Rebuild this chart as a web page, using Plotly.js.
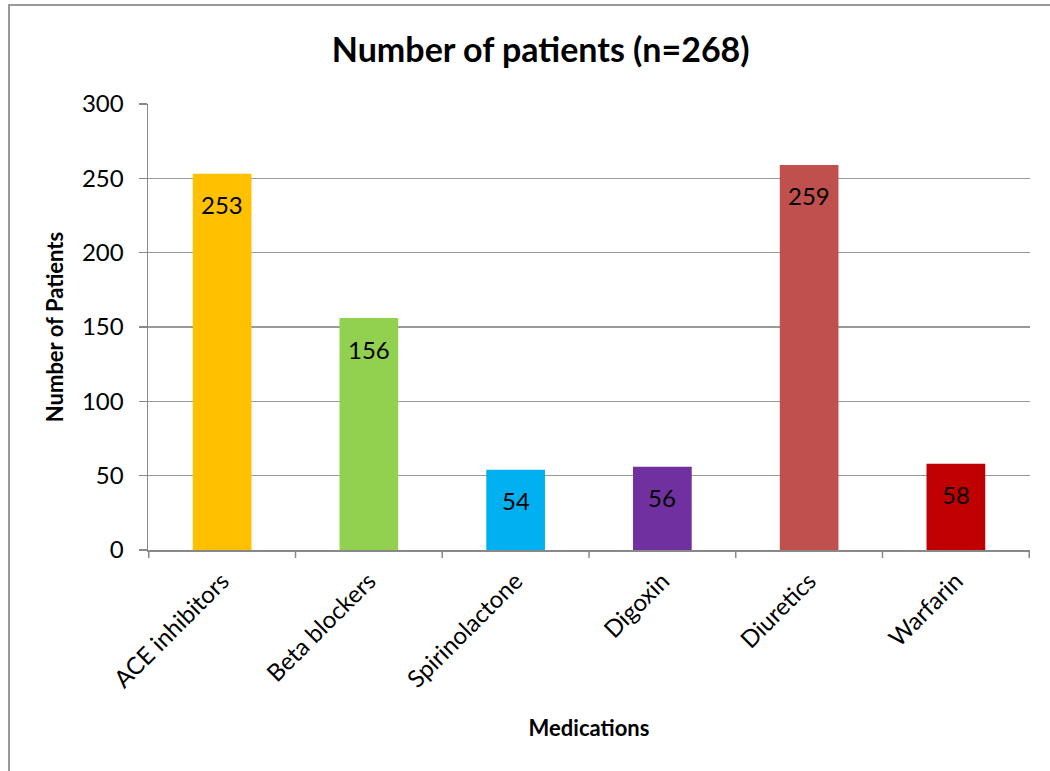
<!DOCTYPE html>
<html>
<head>
<meta charset="utf-8">
<script src="https://cdn.plot.ly/plotly-3.0.1.min.js"></script>
<style>
html,body{margin:0;padding:0;background:#fff;}
#chart{width:1050px;height:771px;}
</style>
</head>
<body>
<div id="chart"></div>
<script>
const categories = ["ACE inhibitors", "Beta blockers", "Spirinolactone", "Digoxin", "Diuretics", "Warfarin"];
const patients = [253, 156, 54, 56, 259, 58];
const barColors = ["#FFC000", "#92D050", "#00B0F0", "#7030A0", "#C0504D", "#C00000"];
const yTicks = [0, 50, 100, 150, 200, 250, 300];

const FONT = "Lato, 'Open Sans', 'Liberation Sans', sans-serif";
const PLOT_H = 446, PLOT_W = 882;

const trace = {
  type: "bar",
  x: categories,
  y: patients,
  marker: {color: barColors, line: {width: 0}},
  width: 0.4,
  hoverinfo: "x+y"
};

const annotations = categories.map((c, i) => ({
  x: c, y: patients[i], xref: "x", yref: "y",
  text: String(patients[i]), showarrow: false,
  yshift: -31, font: {family: FONT, size: 24, color: "#000"}
}));

const shapes = [];
for (let i = 0; i <= categories.length; i++) {
  shapes.push({type: "line", xref: "x", yref: "paper", x0: i - 0.5, x1: i - 0.5,
    y0: 0, y1: -8 / PLOT_H, line: {color: "#888", width: 1.5}});
}
// outer chart border
shapes.push({type: "rect", xref: "paper", yref: "paper",
  x0: -139 / PLOT_W, x1: 1.05, y0: -300 / PLOT_H, y1: 1 + 99 / PLOT_H,
  line: {color: "#999", width: 2}});

const layout = {
  width: 1050, height: 771,
  margin: {l: 148, r: 20, t: 104, b: 221},
  paper_bgcolor: "#fff", plot_bgcolor: "#fff",
  showlegend: false,
  title: {text: "<b>Number of patients (n=268)</b>", x: 0.515, xanchor: "center", y: 0.935, yanchor: "middle",
          font: {family: FONT, size: 34, color: "#000"}},
  xaxis: {
    type: "category",
    tickangle: -45,
    tickfont: {family: FONT, size: 24, color: "#000"},
    ticklabelstandoff: 6,
    showline: true, linecolor: "#888", linewidth: 1.5,
    ticks: "", showgrid: false,
    automargin: false,
    title: {text: "<b>Medications</b>", font: {family: FONT, size: 22, color: "#000"}, standoff: 28}
  },
  yaxis: {
    range: [0, 300],
    tickvals: yTicks,
    ticktext: yTicks.map(String),
    tickfont: {family: FONT, size: 24, color: "#000"},
    ticks: "outside", ticklen: 8, tickcolor: "#888", tickwidth: 1.5,
    ticklabelstandoff: 10,
    showline: true, linecolor: "#888", linewidth: 1.5,
    showgrid: true, gridcolor: "#999", gridwidth: 1.5,
    zeroline: false,
    automargin: false,
    title: {text: "<b>Number of Patients</b>", font: {family: FONT, size: 22, color: "#000"}, standoff: 12}
  },
  annotations: annotations,
  shapes: shapes
};

Plotly.newPlot("chart", [trace], layout, {displayModeBar: false, staticPlot: true});
</script>
</body>
</html>
